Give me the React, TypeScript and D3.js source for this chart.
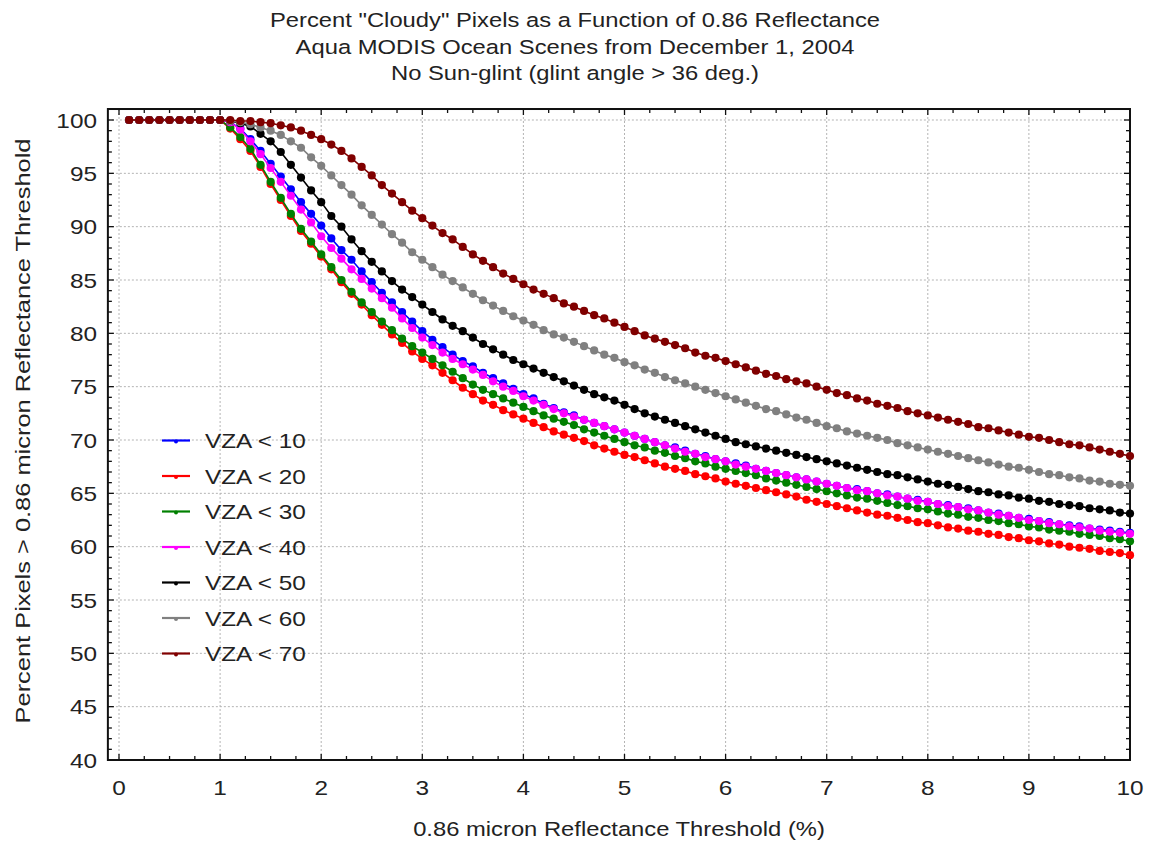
import React, { useRef, useEffect } from 'react';
import * as d3 from 'd3';

const titleLines = [
  'Percent "Cloudy" Pixels as a Function of 0.86 Reflectance',
  'Aqua MODIS Ocean Scenes from December 1, 2004',
  'No Sun-glint (glint angle > 36 deg.)',
];
const xTitle = '0.86 micron Reflectance Threshold (%)';
const yTitle = 'Percent Pixels > 0.86 micron Reflectance Threshold';

const xTicks = [0, 1, 2, 3, 4, 5, 6, 7, 8, 9, 10];
const yTicks = [40, 45, 50, 55, 60, 65, 70, 75, 80, 85, 90, 95, 100];

const thresholds = [
  0.1, 0.2, 0.3, 0.4, 0.5, 0.6, 0.7, 0.8, 0.9, 1.0,
  1.1, 1.2, 1.3, 1.4, 1.5, 1.6, 1.7, 1.8, 1.9, 2.0,
  2.1, 2.2, 2.3, 2.4, 2.5, 2.6, 2.7, 2.8, 2.9, 3.0,
  3.1, 3.2, 3.3, 3.4, 3.5, 3.6, 3.7, 3.8, 3.9, 4.0,
  4.1, 4.2, 4.3, 4.4, 4.5, 4.6, 4.7, 4.8, 4.9, 5.0,
  5.1, 5.2, 5.3, 5.4, 5.5, 5.6, 5.7, 5.8, 5.9, 6.0,
  6.1, 6.2, 6.3, 6.4, 6.5, 6.6, 6.7, 6.8, 6.9, 7.0,
  7.1, 7.2, 7.3, 7.4, 7.5, 7.6, 7.7, 7.8, 7.9, 8.0,
  8.1, 8.2, 8.3, 8.4, 8.5, 8.6, 8.7, 8.8, 8.9, 9.0,
  9.1, 9.2, 9.3, 9.4, 9.5, 9.6, 9.7, 9.8, 9.9, 10.0,
];

const vza10 = [
  100, 100, 100, 100, 100, 100, 100, 100, 100, 100,
  99.8, 99.2, 98.2, 97.1, 95.9, 94.7, 93.5, 92.3, 91.2, 90.1,
  88.9, 87.8, 86.9, 85.8, 84.8, 83.8, 82.9, 82.0, 81.1, 80.2,
  79.4, 78.7, 78.0, 77.4, 76.9, 76.3, 75.8, 75.3, 74.8, 74.3,
  73.9, 73.4, 73.0, 72.6, 72.3, 71.9, 71.6, 71.3, 71.0, 70.7,
  70.4, 70.1, 69.8, 69.5, 69.3, 69.0, 68.7, 68.5, 68.2, 68.0,
  67.8, 67.6, 67.3, 67.1, 66.9, 66.7, 66.5, 66.3, 66.1, 65.9,
  65.7, 65.5, 65.4, 65.2, 65.0, 64.9, 64.7, 64.5, 64.4, 64.2,
  64.0, 63.9, 63.7, 63.6, 63.4, 63.2, 63.1, 62.9, 62.7, 62.6,
  62.4, 62.3, 62.1, 62.0, 61.9, 61.7, 61.6, 61.5, 61.4, 61.3,
];

const vza20 = [
  100, 100, 100, 100, 100, 100, 100, 100, 100, 100,
  99.2, 98.2, 97.1, 95.6, 94.0, 92.5, 91.0, 89.6, 88.4, 87.2,
  86.0, 84.8, 83.7, 82.7, 81.7, 80.8, 79.9, 79.1, 78.3, 77.6,
  77.0, 76.3, 75.6, 74.9, 74.3, 73.7, 73.3, 72.8, 72.4, 72.0,
  71.6, 71.2, 70.8, 70.5, 70.2, 69.9, 69.5, 69.2, 68.9, 68.6,
  68.4, 68.1, 67.8, 67.5, 67.3, 67.1, 66.8, 66.6, 66.4, 66.1,
  65.9, 65.7, 65.5, 65.3, 65.1, 64.9, 64.7, 64.4, 64.2, 64.0,
  63.8, 63.6, 63.4, 63.2, 63.0, 62.9, 62.7, 62.5, 62.3, 62.2,
  62.0, 61.8, 61.7, 61.5, 61.4, 61.2, 61.1, 60.9, 60.8, 60.6,
  60.5, 60.3, 60.2, 60.0, 59.9, 59.8, 59.6, 59.5, 59.4, 59.2,
];

const vza30 = [
  100, 100, 100, 100, 100, 100, 100, 100, 100, 100,
  99.3, 98.4, 97.3, 95.8, 94.2, 92.7, 91.2, 89.8, 88.6, 87.4,
  86.2, 85.0, 83.9, 82.9, 82.0, 81.1, 80.3, 79.5, 78.8, 78.2,
  77.6, 77.0, 76.4, 75.8, 75.2, 74.7, 74.3, 73.9, 73.5, 73.1,
  72.7, 72.3, 72.0, 71.7, 71.4, 71.0, 70.7, 70.4, 70.1, 69.8,
  69.5, 69.3, 69.0, 68.8, 68.5, 68.3, 68.0, 67.8, 67.5, 67.3,
  67.1, 66.9, 66.7, 66.4, 66.2, 66.0, 65.8, 65.6, 65.4, 65.2,
  65.0, 64.8, 64.6, 64.5, 64.3, 64.1, 63.9, 63.8, 63.6, 63.5,
  63.3, 63.1, 63.0, 62.8, 62.7, 62.5, 62.4, 62.2, 62.1, 61.9,
  61.8, 61.6, 61.5, 61.4, 61.2, 61.1, 61.0, 60.8, 60.7, 60.5,
];

const vza40 = [
  100, 100, 100, 100, 100, 100, 100, 100, 100, 100,
  99.8, 99.1, 98.0, 96.8, 95.5, 94.2, 92.9, 91.6, 90.4, 89.1,
  88.0, 87.0, 86.0, 85.1, 84.2, 83.3, 82.4, 81.4, 80.5, 79.6,
  78.9, 78.2, 77.6, 77.1, 76.6, 76.1, 75.5, 75.0, 74.6, 74.1,
  73.7, 73.3, 72.9, 72.5, 72.2, 71.9, 71.6, 71.3, 71.0, 70.7,
  70.4, 70.1, 69.8, 69.5, 69.2, 68.9, 68.7, 68.4, 68.2, 68.0,
  67.7, 67.5, 67.3, 67.1, 66.9, 66.7, 66.5, 66.3, 66.1, 65.9,
  65.7, 65.5, 65.3, 65.2, 65.0, 64.8, 64.7, 64.5, 64.3, 64.2,
  64.0, 63.8, 63.7, 63.5, 63.4, 63.2, 63.0, 62.9, 62.7, 62.5,
  62.4, 62.2, 62.1, 61.9, 61.8, 61.7, 61.5, 61.4, 61.3, 61.2,
];

const vza50 = [
  100, 100, 100, 100, 100, 100, 100, 100, 100, 100,
  99.9, 99.7, 99.4, 98.7, 98.0, 97.0, 95.8, 94.6, 93.4, 92.3,
  91.0, 90.0, 88.8, 87.7, 86.7, 85.8, 84.9, 84.1, 83.4, 82.7,
  82.0, 81.3, 80.7, 80.2, 79.6, 79.0, 78.5, 78.0, 77.5, 77.1,
  76.7, 76.3, 75.9, 75.5, 75.1, 74.7, 74.3, 74.0, 73.7, 73.3,
  72.9, 72.5, 72.2, 71.9, 71.6, 71.3, 71.0, 70.7, 70.4, 70.1,
  69.8, 69.6, 69.4, 69.2, 69.0, 68.8, 68.6, 68.4, 68.2, 68.0,
  67.8, 67.6, 67.4, 67.2, 67.0, 66.8, 66.7, 66.5, 66.3, 66.1,
  65.9, 65.8, 65.6, 65.4, 65.2, 65.1, 64.9, 64.8, 64.6, 64.5,
  64.3, 64.2, 64.0, 63.9, 63.8, 63.6, 63.5, 63.4, 63.2, 63.1,
];

const vza60 = [
  100, 100, 100, 100, 100, 100, 100, 100, 100, 100,
  99.9, 99.8, 99.6, 99.3, 99.0, 98.6, 98.0, 97.4, 96.5, 95.7,
  94.8, 93.9, 93.0, 92.0, 91.1, 90.2, 89.3, 88.5, 87.6, 86.9,
  86.2, 85.5, 84.9, 84.3, 83.7, 83.1, 82.6, 82.1, 81.6, 81.2,
  80.8, 80.3, 79.9, 79.6, 79.2, 78.8, 78.4, 78.0, 77.7, 77.3,
  77.0, 76.6, 76.3, 75.9, 75.6, 75.3, 75.0, 74.7, 74.4, 74.1,
  73.8, 73.5, 73.2, 72.9, 72.7, 72.4, 72.1, 71.9, 71.6, 71.3,
  71.1, 70.8, 70.6, 70.4, 70.2, 70.0, 69.7, 69.5, 69.3, 69.1,
  68.9, 68.7, 68.5, 68.3, 68.1, 67.9, 67.7, 67.5, 67.4, 67.2,
  67.0, 66.8, 66.7, 66.5, 66.4, 66.2, 66.1, 65.9, 65.8, 65.7,
];

const vza70 = [
  100, 100, 100, 100, 100, 100, 100, 100, 100, 100,
  100, 99.9, 99.9, 99.8, 99.7, 99.5, 99.3, 99.0, 98.6, 98.2,
  97.7, 97.1, 96.4, 95.6, 94.8, 93.9, 93.1, 92.3, 91.5, 90.8,
  90.1, 89.4, 88.8, 88.1, 87.4, 86.8, 86.2, 85.6, 85.1, 84.6,
  84.1, 83.7, 83.3, 82.8, 82.5, 82.1, 81.7, 81.4, 81.0, 80.6,
  80.2, 79.8, 79.5, 79.2, 78.9, 78.6, 78.2, 77.9, 77.7, 77.4,
  77.1, 76.8, 76.5, 76.2, 76.0, 75.7, 75.5, 75.3, 75.0, 74.7,
  74.4, 74.2, 73.9, 73.7, 73.4, 73.2, 73.0, 72.7, 72.5, 72.3,
  72.1, 71.9, 71.7, 71.5, 71.2, 71.1, 70.9, 70.7, 70.5, 70.3,
  70.2, 70.0, 69.8, 69.6, 69.5, 69.3, 69.1, 68.9, 68.7, 68.5,
];

const seriesNames = ['VZA < 10', 'VZA < 20', 'VZA < 30', 'VZA < 40', 'VZA < 50', 'VZA < 60', 'VZA < 70'];
const seriesValues = [vza10, vza20, vza30, vza40, vza50, vza60, vza70];
const seriesColors = ['#0000ff', '#ff0000', '#008000', '#ff00ff', '#000000', '#808080', '#800000'];

const FONT = "'Liberation Sans', Arial, sans-serif";
const STRETCH = 1.16; // the original text is a bit wider than Arial

const App = () => {
  const svgRef = useRef<SVGSVGElement>(null);

  useEffect(() => {
    const svg = d3.select(svgRef.current);
    svg.selectAll('*').remove();

    const x = d3.scaleLinear().domain([0, 10]).range([119, 1130]);
    const y = d3.scaleLinear().domain([40, 100]).range([760, 120]);
    const left = x(-0.11);
    const right = x(10);
    const top = y(101.03);
    const bottom = y(40);

    const label = (g, tx, ty, str, anchor, size = 21, rot = 0, stretch = STRETCH) =>
      g.append('text')
        .attr('transform', `translate(${tx}, ${ty}) rotate(${rot}) scale(${stretch}, 1)`)
        .attr('text-anchor', anchor)
        .style('font-family', FONT).style('font-size', size + 'px').style('fill', '#222')
        .text(str);

    svg.append('rect').attr('width', 1151).attr('height', 845).attr('fill', '#fff');

    // grid
    const grid = svg.append('g').attr('stroke', '#b4b4b4').attr('stroke-width', 1).attr('stroke-dasharray', '2,2');
    xTicks.forEach((t) => {
      grid.append('line').attr('x1', x(t)).attr('x2', x(t)).attr('y1', top).attr('y2', bottom);
    });
    yTicks.filter((t) => t > 40).forEach((t) => {
      grid.append('line').attr('x1', left).attr('x2', right).attr('y1', y(t)).attr('y2', y(t));
    });

    // ticks on all four sides, pointing inward
    const ticks = svg.append('g').attr('stroke', '#111').attr('stroke-width', 1.3);
    d3.range(0, 10.001, 0.25).forEach((t) => {
      const len = Math.abs(t - Math.round(t)) < 1e-6 ? 6 : 4;
      ticks.append('line').attr('x1', x(t)).attr('x2', x(t)).attr('y1', bottom).attr('y2', bottom - len);
      ticks.append('line').attr('x1', x(t)).attr('x2', x(t)).attr('y1', top).attr('y2', top + len);
    });
    d3.range(40, 101, 1).forEach((t) => {
      const len = t % 5 === 0 ? 6 : 4;
      ticks.append('line').attr('x1', left).attr('x2', left + len).attr('y1', y(t)).attr('y2', y(t));
      ticks.append('line').attr('x1', right).attr('x2', right - len).attr('y1', y(t)).attr('y2', y(t));
    });

    svg.append('rect')
      .attr('x', left).attr('y', top)
      .attr('width', right - left).attr('height', bottom - top)
      .attr('fill', 'none').attr('stroke', '#111').attr('stroke-width', 2);

    // tick labels
    const tl = svg.append('g');
    xTicks.forEach((t) => label(tl, x(t), 795, t, 'middle'));
    yTicks.forEach((t) => label(tl, 97, y(t) + 7.5, t, 'end'));

    // titles
    const tg = svg.append('g');
    titleLines.forEach((s, i) => label(tg, 575, 27 + i * 26.5, s, 'middle', 20.5));
    label(tg, 619, 836, xTitle, 'middle', 20.5);
    label(tg, 30, 431, yTitle, 'middle', 20.5, -90, 1.24);

    // series
    const line = d3.line<number>()
      .x((d, i) => x(thresholds[i]))
      .y((d) => y(d));

    seriesValues.forEach((values, s) => {
      const g = svg.append('g');
      g.append('path')
        .attr('d', line(values))
        .attr('fill', 'none')
        .attr('stroke', seriesColors[s])
        .attr('stroke-width', 1.6);
      g.selectAll('circle').data(values).join('circle')
        .attr('cx', (d, i) => x(thresholds[i]))
        .attr('cy', (d) => y(d))
        .attr('r', 4.1)
        .attr('fill', seriesColors[s]);
    });

    // legend
    const legend = svg.append('g');
    seriesNames.forEach((name, i) => {
      const ly = 440.5 + i * 35.5;
      legend.append('line')
        .attr('x1', 162).attr('x2', 190).attr('y1', ly).attr('y2', ly)
        .attr('stroke', seriesColors[i]).attr('stroke-width', 2.2);
      legend.append('circle').attr('cx', 176).attr('cy', ly + 1).attr('r', 2).attr('fill', seriesColors[i]);
      label(legend, 205, ly + 7.5, name, 'start');
    });
  }, []);

  return (
    <svg ref={svgRef} width={1151} height={845} style={{ position: 'absolute', left: 0, top: 0 }} />
  );
};

export default App;
